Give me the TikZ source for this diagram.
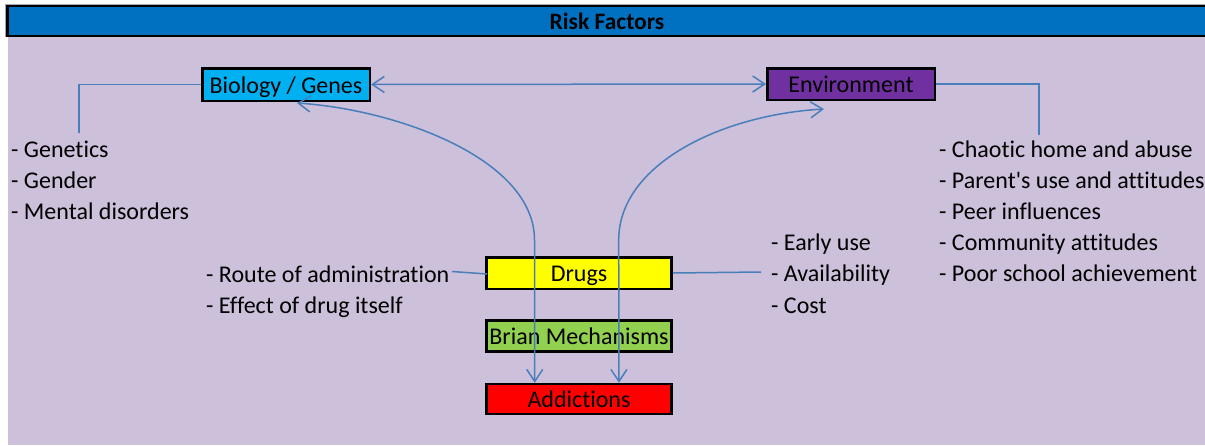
\documentclass[tikz,border=0pt]{standalone}
\usepackage{fontspec}
\setmainfont{Carlito}[Ligatures={NoCommon}]
\usetikzlibrary{arrows.meta,calc}
\definecolor{titleblue}{HTML}{0070C0}
\definecolor{lav}{HTML}{CCC0DA}
\definecolor{conn}{HTML}{4A7EBB}
\definecolor{cyanbox}{HTML}{00B0F0}
\definecolor{purplebox}{HTML}{7030A0}
\definecolor{yellowbox}{HTML}{FFFF00}
\definecolor{greenbox}{HTML}{92D050}
\definecolor{redbox}{HTML}{FF0000}
\tikzset{
  box/.style={draw=black, line width=2.5pt, inner sep=0pt, text height=22pt, text depth=5pt, font=\fontsize{24}{29}\selectfont},
  item/.style={anchor=base west, inner sep=0pt, font=\fontsize{24}{29}\selectfont},
  link/.style={draw=conn, line width=1.5pt},
  tips/.style={{Straight Barb[length=12pt,width=16pt,line width=1.5pt]}-{Straight Barb[length=12pt,width=16pt,line width=1.5pt]}}
}
\begin{document}
\begin{tikzpicture}[x=1pt,y=-1pt]
\useasboundingbox (0,0) rectangle (1205,445);
\fill[white] (0,0) rectangle (1205,445);
\fill[lav] (8,37) rectangle (1205,445);
\draw[gray!70, line width=1pt] (5.5,4) -- (1205,4);
\draw[gray!70, line width=1pt] (5.5,4) -- (5.5,37);
\draw[black, line width=2.5pt, fill=titleblue] (7.25,6) rectangle (1210,35.75);
\node[font=\bfseries\fontsize{23.5}{28}\selectfont, inner sep=0pt] (title) at (607,21) {Risk Factors};

% boxes
\node[box, fill=cyanbox, minimum width=167.5pt, minimum height=32.5pt] (bio) at (286,84.5) {Biology / Genes};
\node[box, fill=purplebox, minimum width=167.5pt, minimum height=31.5pt] (env) at (851,84) {Environment};
\node[box, fill=yellowbox, minimum width=185pt, minimum height=31.5pt] (drugs) at (579,273) {Drugs};
\node[box, fill=greenbox, minimum width=185pt, minimum height=31.2pt] (brain) at (579,336) {Brian Mechanisms};
\node[box, fill=redbox, minimum width=185pt, minimum height=30pt] (add) at (579,399) {Addictions};

% lists
\node[item] (g1) at (11,157) {- Genetics};
\node[item] (g2) at (11,188) {- Gender};
\node[item] (g3) at (11,219) {- Mental disorders};

\node[item] (e1) at (939,157) {- Chaotic home and abuse};
\node[item] (e2) at (939,188) {- Parent\textquotesingle s use and attitudes};
\node[item] (e3) at (939,219) {- Peer influences};
\node[item] (e4) at (939,250) {- Community attitudes};
\node[item] (e5) at (939,281) {- Poor school achievement};

\node[item] (d1) at (771,250) {- Early use};
\node[item] (d2) at (771,281) {- Availability};
\node[item] (d3) at (771,313) {- Cost};

\node[item] (r1) at (206,282) {- Route of administration};
\node[item] (r2) at (206,313) {- Effect of drug itself};

% connector end points
\coordinate (gtop) at (79,133);
\coordinate (etop) at (1039,135);
\coordinate (rend) at (452,271.5);
\coordinate (dend) at (761,272);

\draw[link] (bio.west) -| (gtop);
\draw[link] (env.east) -| (etop);
\draw[link] (rend) -- ($(drugs.west)+(2,1)$);
\draw[link] (drugs.east) -- (dend);
\draw[link, tips] (bio.east) -- (env.west);

\draw[link, tips] ($(bio.south)+(11,1)$) .. controls (400,110) and (534.5,160) .. (534.5,240) -- ($(add.north west)+(49.5,0)$);
\draw[link, tips] ($(env.south)+(-27,8)$) .. controls (720,115) and (618.7,165) .. (618.7,240) -- ($(add.north west)+(133.7,0)$);
\end{tikzpicture}
\end{document}
